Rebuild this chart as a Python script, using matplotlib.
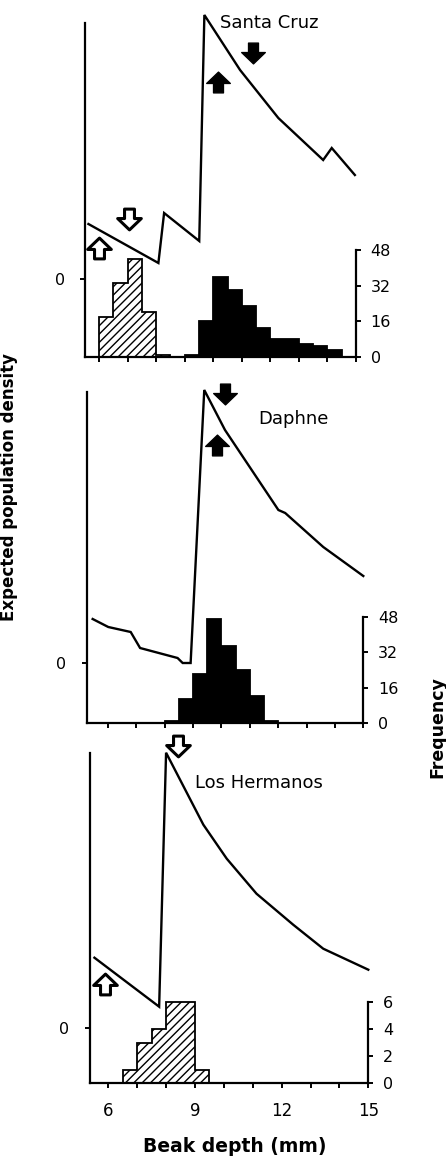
import matplotlib
matplotlib.use('Agg')
import matplotlib.pyplot as plt
from matplotlib.path import Path

# ---- data ----
# expected population density curves (beak depth in mm, density in arbitrary units)
sc_x = [5.63, 8.08, 8.28, 9.51, 9.69, 10.94, 12.28, 13.85, 14.15, 14.96]
sc_d = [0.55, 0.16, 0.66, 0.38, 2.64, 2.09, 1.61, 1.19, 1.31, 1.04]

dp_x = [5.47, 6.02, 6.81, 7.14, 8.46, 8.64, 8.92, 9.40, 10.13, 12.01, 12.25, 13.59, 15.0]
dp_d = [0.44, 0.36, 0.31, 0.15, 0.05, 0.0, 0.0, 2.73, 2.33, 1.53, 1.50, 1.16, 0.87]

lh_x = [5.52, 7.76, 8.0, 9.29, 10.10, 11.13, 12.40, 13.44, 15.0]
lh_d = [0.70, 0.21, 2.75, 2.03, 1.69, 1.34, 1.03, 0.79, 0.58]

# beak depth histograms, 0.5 mm bins
bin_width = 0.5
sc_small_start = 6.0
sc_small_counts = [18, 33, 44, 20, 1]
sc_large_start = 9.0
sc_large_counts = [1, 16, 36, 30, 23, 13, 8, 8, 6, 5, 3]
dp_start = 8.0
dp_counts = [1, 11, 22, 47, 35, 24, 12, 1]
lh_start = 6.5
lh_counts = [1, 3, 4, 6, 6, 1]

# arrows: (beak depth, density, direction, style)
sc_arrows = [(6.01, 0.315, 'up', 'open'), (7.04, 0.605, 'down', 'open'),
             (10.18, 1.97, 'up', 'solid'), (11.39, 2.26, 'down', 'solid')]
dp_arrows = [(10.13, 2.69, 'down', 'solid'), (9.84, 2.18, 'up', 'solid')]
lh_arrows = [(8.41, 2.82, 'down', 'open'), (5.90, 0.44, 'up', 'open')]

freq_ticks_big = [0, 16, 32, 48]
freq_ticks_small = [0, 2, 4, 6]
x_ticks = [6, 7, 8, 9, 10, 11, 12, 13, 14, 15]

# ---- layout in pixels (figure is 446 x 1156) ----
W, H = 446, 1156
layouts = {
  'top': dict(x_left=85, x6=99, x15=356, y_bottom=357, y_top=10, y_zero=279, freq_px=2.23, spine_top=23),
  'mid': dict(x_left=86.7, x6=107.7, x15=363.3, y_bottom=723, y_top=380, y_zero=663, freq_px=2.21, spine_top=391.7),
  'bot': dict(x_left=89.5, x6=108.3, x15=368.3, y_bottom=1083.3, y_top=745, y_zero=1027.7, freq_px=13.5, spine_top=753.3),
}
dens_px = 100.0  # pixels per density unit

plt.rcParams['font.family'] = ['DejaVu Sans']

up_verts = [(0, 0.88), (1, -0.08), (0.42, -0.08), (0.42, -0.88), (-0.42, -0.88),
            (-0.42, -0.08), (-1, -0.08), (0, 0.88)]
codes = [Path.MOVETO] + [Path.LINETO] * 6 + [Path.CLOSEPOLY]
arrow_up = Path(up_verts, codes)
arrow_down = Path([(vx, -vy) for vx, vy in up_verts], codes)


def draw_panel(fig, lay, cx, cd, hists, arrows, name, name_xy, fticks, xlabels):
  pxmm = (lay['x15'] - lay['x6']) / 9.0
  rect = [lay['x_left'] / W, 1 - lay['y_bottom'] / H,
          (lay['x15'] - lay['x_left']) / W, (lay['y_bottom'] - lay['y_top']) / H]
  ax = fig.add_axes(rect)
  ax2 = ax.twinx()
  ax.set_zorder(ax2.get_zorder() + 1)
  ax.patch.set_visible(False)

  xmin = 6 - (lay['x6'] - lay['x_left']) / pxmm
  ax.set_xlim(xmin, 15)
  d_lo = -(lay['y_bottom'] - lay['y_zero']) / dens_px
  d_hi = (lay['y_zero'] - lay['y_top']) / dens_px
  ax.set_ylim(d_lo, d_hi)
  ax2.set_ylim(0, (lay['y_bottom'] - lay['y_top']) / lay['freq_px'])

  # histograms on the frequency axis, drawn as one step outline each
  for start, counts, style in hists:
    edges = [start + i * bin_width for i in range(len(counts) + 1)]
    if style == 'hatch':
      ax2.stairs(counts, edges, fill=True, facecolor='white', edgecolor='black',
                 hatch='////', linewidth=1.3)
    else:
      ax2.stairs(counts, edges, fill=True, facecolor='black', edgecolor='black',
                 linewidth=1.3)

  # density curve
  ax.plot(cx, cd, color='black', lw=1.7, solid_joinstyle='miter', clip_on=False)

  for ax_x, ax_d, direction, style in arrows:
    m = arrow_up if direction == 'up' else arrow_down
    if style == 'open':
      ax.plot(ax_x, ax_d, marker=m, markersize=17, mfc='white', mec='black', mew=2.2, clip_on=False)
    else:
      ax.plot(ax_x, ax_d, marker=m, markersize=17, mfc='black', mec='black', mew=1, clip_on=False)

  ax.text(name_xy[0], name_xy[1], name, fontsize=13, ha='left', va='center')

  # spines
  for s in ['top', 'right']:
    ax.spines[s].set_visible(False)
  for s in ['top', 'left', 'bottom']:
    ax2.spines[s].set_visible(False)
  ax.spines['left'].set_bounds(d_lo, (lay['y_zero'] - lay['spine_top']) / dens_px)
  ax2.spines['right'].set_bounds(0, fticks[-1])
  for sp in [ax.spines['left'], ax.spines['bottom'], ax2.spines['right']]:
    sp.set_linewidth(1.6)

  ax.set_yticks([0])
  ax.set_yticklabels(['0'])
  ax.tick_params(axis='y', direction='out', length=3.5, width=1.4, pad=11, labelsize=11.5)
  ax.set_xticks(x_ticks)
  if xlabels:
    ax.set_xticklabels([str(t) if t % 3 == 0 else '' for t in x_ticks])
  else:
    ax.set_xticklabels([])
  ax.tick_params(axis='x', direction='out', length=3.5, width=1.4, pad=10, labelsize=12)

  ax2.set_yticks(fticks)
  ax2.set_yticklabels([str(t) for t in fticks])
  ax2.tick_params(axis='y', direction='out', length=3.5, width=1.4, pad=7, labelsize=11.5)
  return ax


fig = plt.figure(figsize=(W / 100, H / 100), dpi=100)

draw_panel(fig, layouts['top'], sc_x, sc_d,
           [(sc_small_start, sc_small_counts, 'hatch'), (sc_large_start, sc_large_counts, 'solid')],
           sc_arrows, 'Santa Cruz', (10.24, 2.555), freq_ticks_big, False)
draw_panel(fig, layouts['mid'], dp_x, dp_d,
           [(dp_start, dp_counts, 'solid')],
           dp_arrows, 'Daphne', (11.30, 2.44), freq_ticks_big, False)
draw_panel(fig, layouts['bot'], lh_x, lh_d,
           [(lh_start, lh_counts, 'hatch')],
           lh_arrows, 'Los Hermanos', (9.0, 2.45), freq_ticks_small, True)

# axis titles
fig.text(9 / W, 1 - 487 / H, 'Expected population density', rotation=90,
         ha='center', va='center', fontsize=12, fontweight='bold')
fig.text(437.5 / W, 1 - 727 / H, 'Frequency', rotation=90,
         ha='center', va='center', fontsize=12.5, fontweight='bold')
fig.text(235 / W, 1 - 1146 / H, 'Beak depth (mm)',
         ha='center', va='center', fontsize=13.5, fontweight='bold')

fig.savefig('out.png', dpi=100)
